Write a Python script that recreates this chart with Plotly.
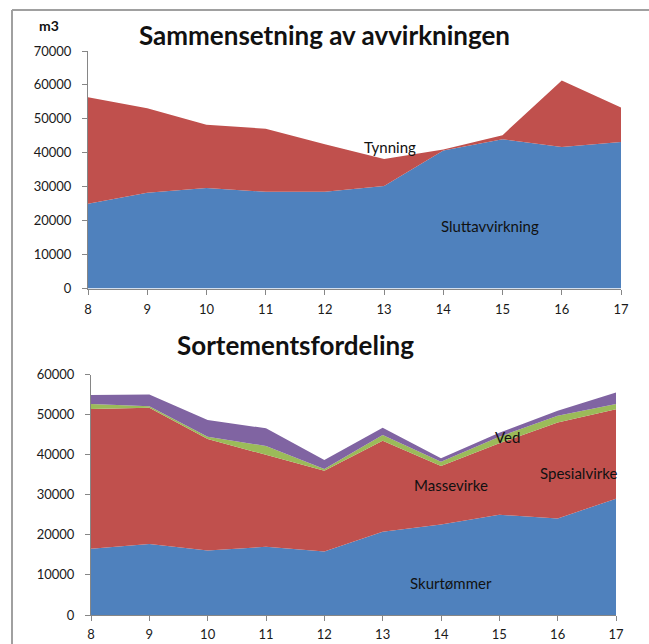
import plotly.graph_objects as go

W, H = 649, 644
FONT = "Lato"

# ---- data: top chart ----
years = [8, 9, 10, 11, 12, 13, 14, 15, 16, 17]
sluttavvirkning = [25000, 28200, 29600, 28500, 28500, 30200, 40700, 44000, 41700, 43200]
tynning = [31400, 24900, 18700, 18600, 14000, 8000, 300, 1200, 19600, 10150]
top_yticks = [0, 10000, 20000, 30000, 40000, 50000, 60000, 70000]

# ---- data: bottom chart ----
skurtommer = [16500, 17700, 16100, 17000, 15850, 20750, 22550, 25000, 24100, 29000]
massevirke = [34900, 34000, 27800, 22900, 20150, 22750, 14650, 17850, 23950, 22300]
ved = [1230, 350, 580, 2270, 440, 1400, 1060, 1630, 1660, 1330]
spesialvirke = [2240, 2990, 4160, 4400, 2240, 1820, 840, 1000, 1250, 2910]
bottom_yticks = [0, 10000, 20000, 30000, 40000, 50000, 60000]

BLUE, RED, GREEN, PURPLE = "#4F81BD", "#C0504D", "#9BBB59", "#8064A2"


def px(x):
    return x / W


def py(y):
    return 1 - y / H


fig = go.Figure()


def area(x, y, name, color, xa, ya, group):
    fig.add_trace(go.Scatter(
        x=x, y=y, name=name, mode="lines", stackgroup=group,
        line=dict(width=0, color=color), fillcolor=color,
        xaxis=xa, yaxis=ya, hoverinfo="x+y+name"))


area(years, sluttavvirkning, "Sluttavvirkning", BLUE, "x", "y", "a")
area(years, tynning, "Tynning", RED, "x", "y", "a")
area(years, skurtommer, "Skurtømmer", BLUE, "x2", "y2", "b")
area(years, massevirke, "Massevirke", RED, "x2", "y2", "b")
area(years, ved, "Ved", GREEN, "x2", "y2", "b")
area(years, spesialvirke, "Spesialvirke", PURPLE, "x2", "y2", "b")

axis_common = dict(
    showgrid=False, zeroline=False, showline=True, linecolor="#868686",
    linewidth=1, ticks="outside", ticklen=5, tickcolor="#868686",
    tickfont=dict(family=FONT, size=13, color="#1a1a1a"), automargin=False,
    tickformat="d",
)

fig.update_layout(
    width=W, height=H,
    margin=dict(l=0, r=0, t=0, b=0),
    paper_bgcolor="white", plot_bgcolor="white",
    showlegend=False,
    font=dict(family=FONT, color="#1a1a1a"),
    xaxis=dict(domain=[px(88), px(621)], range=[8, 17], tickvals=years,
               anchor="y", ticklabelstandoff=4, **axis_common),
    yaxis=dict(domain=[py(288.5), py(51)], range=[0, 70000], tickvals=top_yticks,
               anchor="x", ticklabelstandoff=8, **axis_common),
    xaxis2=dict(domain=[px(91), px(616)], range=[8, 17], tickvals=years,
                anchor="y2", ticklabelstandoff=2, **axis_common),
    yaxis2=dict(domain=[py(615), py(374.5)], range=[0, 60000], tickvals=bottom_yticks,
                anchor="x2", ticklabelstandoff=8, **axis_common),
)


def label(x, y, text, size=15, bold=False):
    fig.add_annotation(
        x=px(x), y=py(y), xref="paper", yref="paper", text=f"<b>{text}</b>" if bold else text,
        showarrow=False, xanchor="center", yanchor="middle",
        font=dict(family=FONT, size=size, color="#111"))


label(324, 35, "Sammensetning av avvirkningen", size=26, bold=True)
label(48.5, 25, "m3", size=14, bold=True)
label(390, 147, "Tynning")
label(490, 226, "Sluttavvirkning")
label(295, 345, "Sortementsfordeling", size=26, bold=True)
label(507, 437, "Ved")
label(578, 473, "Spesialvirke")
label(451, 485, "Massevirke")
label(451, 583, "Skurtømmer")

# outer frame lines (left and top)
fig.add_shape(type="line", xref="paper", yref="paper", x0=px(12), x1=px(12), y0=0, y1=py(10),
              line=dict(color="#a0a0a0", width=2))
fig.add_shape(type="line", xref="paper", yref="paper", x0=px(12), x1=1, y0=py(10), y1=py(10),
              line=dict(color="#a0a0a0", width=2))

fig.write_html("out.html", config={"displayModeBar": False},
               post_script="document.body.style.margin='0';document.body.style.overflow='hidden';")
